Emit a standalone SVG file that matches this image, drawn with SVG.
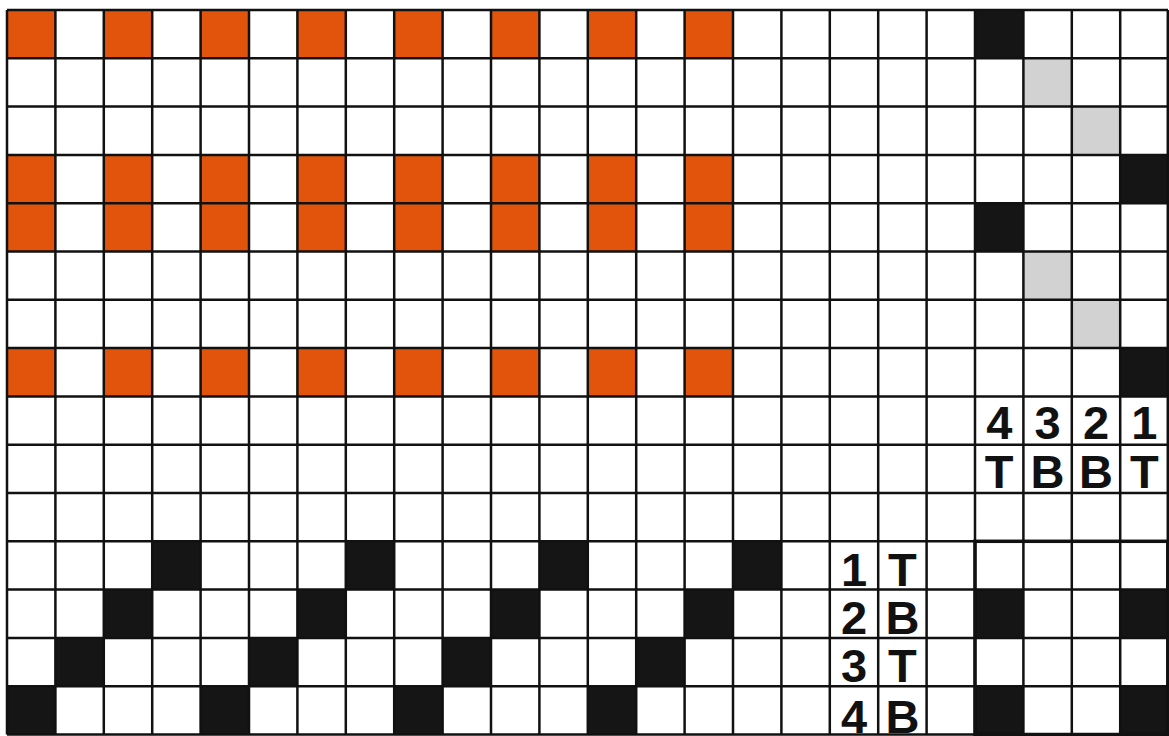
<svg xmlns="http://www.w3.org/2000/svg" width="1169" height="736" viewBox="0 0 1169 736">
<defs>
<style>
.o{fill:#E2540C}
.k{fill:#151515}
.g{fill:#D2D2D2}
.grid{stroke:#111;stroke-width:2.5;fill:none}
.t{font-family:"Liberation Sans",Arial,sans-serif;font-weight:bold;fill:#111;text-anchor:middle;font-size:47px}
</style>
</defs>
<rect width="1169" height="736" fill="#fff"/>
<g id="drawdown">
<rect class="o" x="7" y="10" width="48.4" height="48.3"/><rect class="o" x="103.8" y="10" width="48.4" height="48.3"/><rect class="o" x="200.6" y="10" width="48.4" height="48.3"/><rect class="o" x="297.4" y="10" width="48.4" height="48.3"/><rect class="o" x="394.2" y="10" width="48.4" height="48.3"/><rect class="o" x="491" y="10" width="48.4" height="48.3"/><rect class="o" x="587.8" y="10" width="48.4" height="48.3"/><rect class="o" x="684.6" y="10" width="48.4" height="48.3"/>
<rect class="o" x="7" y="154.9" width="48.4" height="96.6"/><rect class="o" x="103.8" y="154.9" width="48.4" height="96.6"/><rect class="o" x="200.6" y="154.9" width="48.4" height="96.6"/><rect class="o" x="297.4" y="154.9" width="48.4" height="96.6"/><rect class="o" x="394.2" y="154.9" width="48.4" height="96.6"/><rect class="o" x="491" y="154.9" width="48.4" height="96.6"/><rect class="o" x="587.8" y="154.9" width="48.4" height="96.6"/><rect class="o" x="684.6" y="154.9" width="48.4" height="96.6"/>
<rect class="o" x="7" y="348.1" width="48.4" height="48.3"/><rect class="o" x="103.8" y="348.1" width="48.4" height="48.3"/><rect class="o" x="200.6" y="348.1" width="48.4" height="48.3"/><rect class="o" x="297.4" y="348.1" width="48.4" height="48.3"/><rect class="o" x="394.2" y="348.1" width="48.4" height="48.3"/><rect class="o" x="491" y="348.1" width="48.4" height="48.3"/><rect class="o" x="587.8" y="348.1" width="48.4" height="48.3"/><rect class="o" x="684.6" y="348.1" width="48.4" height="48.3"/>
</g>
<g id="treadling">
<rect class="k" x="975" y="10" width="48.4" height="48.3"/>
<rect class="g" x="1023.4" y="58.3" width="48.4" height="48.3"/>
<rect class="g" x="1071.8" y="106.6" width="48.4" height="48.3"/>
<rect class="k" x="1120.2" y="154.9" width="48.4" height="48.3"/>
<rect class="k" x="975" y="203.2" width="48.4" height="48.3"/>
<rect class="g" x="1023.4" y="251.5" width="48.4" height="48.3"/>
<rect class="g" x="1071.8" y="299.8" width="48.4" height="48.3"/>
<rect class="k" x="1120.2" y="348.1" width="48.4" height="48.3"/>
</g>
<g id="threading">
<rect class="k" x="152.2" y="541.3" width="48.4" height="48.3"/><rect class="k" x="345.8" y="541.3" width="48.4" height="48.3"/><rect class="k" x="539.4" y="541.3" width="48.4" height="48.3"/><rect class="k" x="733" y="541.3" width="48.4" height="48.3"/>
<rect class="k" x="103.8" y="589.6" width="48.4" height="48.3"/><rect class="k" x="297.4" y="589.6" width="48.4" height="48.3"/><rect class="k" x="491" y="589.6" width="48.4" height="48.3"/><rect class="k" x="684.6" y="589.6" width="48.4" height="48.3"/>
<rect class="k" x="55.4" y="637.9" width="48.4" height="48.3"/><rect class="k" x="249" y="637.9" width="48.4" height="48.3"/><rect class="k" x="442.6" y="637.9" width="48.4" height="48.3"/><rect class="k" x="636.2" y="637.9" width="48.4" height="48.3"/>
<rect class="k" x="7" y="686.2" width="48.4" height="48.3"/><rect class="k" x="200.6" y="686.2" width="48.4" height="48.3"/><rect class="k" x="394.2" y="686.2" width="48.4" height="48.3"/><rect class="k" x="587.8" y="686.2" width="48.4" height="48.3"/>
</g>
<g id="tieup">
<rect class="k" x="975" y="589.6" width="48.4" height="48.3"/><rect class="k" x="1120.2" y="589.6" width="48.4" height="48.3"/>
<rect class="k" x="975" y="686.2" width="48.4" height="48.3"/><rect class="k" x="1120.2" y="686.2" width="48.4" height="48.3"/>
</g>
<g id="grid">
<path class="grid" d="M7 10V734.5M55.4 10V734.5M103.8 10V734.5M152.2 10V734.5M200.6 10V734.5M249 10V734.5M297.4 10V734.5M345.8 10V734.5M394.2 10V734.5M442.6 10V734.5M491 10V734.5M539.4 10V734.5M587.8 10V734.5M636.2 10V734.5M684.6 10V734.5M733 10V734.5M781.4 10V734.5M829.8 10V734.5M878.2 10V734.5M926.6 10V734.5M975 10V734.5M1023.4 10V734.5M1071.8 10V734.5M1120.2 10V734.5M1167.8 10V734.5"/>
<path class="grid" d="M7 10H1168M7 58.3H1168M7 106.6H1168M7 154.9H1168M7 203.2H1168M7 251.5H1168M7 299.8H1168M7 348.1H1168M7 396.4H1168M7 444.7H1168M7 493H1168M7 541.3H1168M7 589.6H1168M7 637.9H1168M7 686.2H1168M7 734.5H1168"/>
<rect x="975" y="541.3" width="192.8" height="193.2" fill="none" stroke="#111" stroke-width="3.5"/>
</g>
<g id="labels">
<text class="t" x="999.2" y="439">4</text><text class="t" x="1047.6" y="439">3</text><text class="t" x="1096" y="439">2</text><text class="t" x="1144.4" y="439">1</text>
<text class="t" x="999.2" y="488">T</text><text class="t" x="1047.6" y="488">B</text><text class="t" x="1096" y="488">B</text><text class="t" x="1144.4" y="488">T</text>
<text class="t" x="854" y="586">1</text><text class="t" x="902.4" y="586">T</text>
<text class="t" x="854" y="634">2</text><text class="t" x="902.4" y="634">B</text>
<text class="t" x="854" y="682">3</text><text class="t" x="902.4" y="682">T</text>
<text class="t" x="854" y="733">4</text><text class="t" x="902.4" y="733">B</text>
</g>
</svg>
